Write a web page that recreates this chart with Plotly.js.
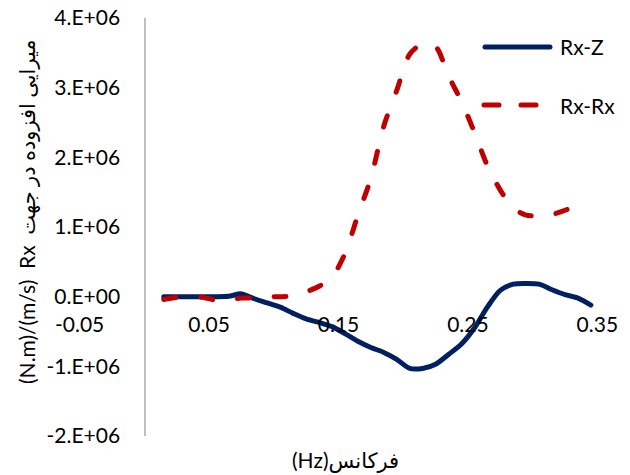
<!DOCTYPE html>
<html><head><meta charset="utf-8">
<script src="https://cdn.plot.ly/plotly-3.0.1.min.js"></script>
<style>
html,body{margin:0;padding:0;background:#fff;}
#chart{width:630px;height:475px;}
.scatterlayer path.js-line{stroke-linecap:round;stroke-linejoin:round;}
.shapelayer path{stroke-linecap:round;}
</style></head><body><div id="chart"></div><script>
// Frequencies (Hz)
const freqRxZ = [0.015,0.025,0.035,0.045,0.055,0.065,0.075,0.085,0.095,0.105,0.115,0.125,0.135,0.145,0.155,0.165,0.175,0.185,0.195,0.205,0.215,0.225,0.235,0.245,0.255,0.265,0.275,0.285,0.295,0.305,0.315,0.325,0.335,0.345];
const valRxZ = [0,0,0,0,0,0.005e6,0.04e6,-0.03e6,-0.09e6,-0.15e6,-0.24e6,-0.32e6,-0.37e6,-0.43e6,-0.53e6,-0.64e6,-0.73e6,-0.80e6,-0.90e6,-1.03e6,-1.03e6,-0.97e6,-0.83e6,-0.68e6,-0.45e6,-0.15e6,0.09e6,0.18e6,0.19e6,0.18e6,0.10e6,0.03e6,-0.02e6,-0.12e6];
const freqRxRx = [0.015,0.025,0.035,0.045,0.055,0.065,0.075,0.085,0.095,0.105,0.115,0.125,0.135,0.145,0.155,0.165,0.175,0.185,0.195,0.205,0.215,0.225,0.235,0.245,0.255,0.265,0.275,0.285,0.295,0.305,0.315,0.325,0.335];
const valRxRx = [-0.04e6,-0.01e6,0,-0.01e6,-0.05e6,-0.04e6,-0.02e6,-0.02e6,0,0,0.01e6,0.07e6,0.15e6,0.28e6,0.62e6,1.17e6,1.70e6,2.45e6,2.96e6,3.48e6,3.63e6,3.59e6,3.17e6,2.80e6,2.36e6,1.88e6,1.53e6,1.27e6,1.17e6,1.16e6,1.18e6,1.24e6,1.33e6];
const seriesNames = ['Rx-Z','Rx-Rx'];
const xTickVals = [-0.05,0.05,0.15,0.25,0.35];
const xTickText = ['-0.05','0.05','0.15','0.25','0.35'];
const yTickVals = [-2e6,-1e6,0,1e6,2e6,3e6,4e6];
const yTickText = ['-2.E+06','-1.E+06','0.E+00','1.E+06','2.E+06','3.E+06','4.E+06'];
const xTitle = '(Hz)فرکانس';
const yTitle = '(N.m)/(m/s)  Rx  میرایی افزوده در جهت';

const blue = '#002060', red = '#C00000';
const traces = [
  {x:freqRxZ, y:valRxZ, name:seriesNames[0], type:'scatter', mode:'lines',
   line:{color:blue, width:5, shape:'spline', smoothing:0.8}},
  {x:freqRxRx, y:valRxRx, name:seriesNames[1], type:'scatter', mode:'lines',
   line:{color:red, width:5, shape:'spline', smoothing:0.8, dash:'12px,25px'}}
];
const font = {family:'Lato, "DejaVu Sans", sans-serif', size:21, color:'#000'};
const layout = {
  width:630, height:475,
  margin:{l:79, r:32, t:18, b:39, pad:0},
  paper_bgcolor:'#fff', plot_bgcolor:'#fff',
  showlegend:false,
  font:font,
  xaxis:{range:[-0.0505,0.3505], tickvals:xTickVals, ticktext:xTickText,
    showgrid:false, zeroline:false, showline:false, ticks:'',
    anchor:'free', position:1/3, ticklabelstandoff:13},
  yaxis:{range:[-2e6,4e6], tickvals:yTickVals, ticktext:yTickText,
    showgrid:false, zeroline:false, showline:true, linecolor:'#bfbfbf', linewidth:1.5, ticks:'',
    anchor:'free', position:0.0505/0.401, ticklabelstandoff:20},
  shapes:[
    {type:'line', xref:'paper', yref:'paper', x0:(485-79)/519, x1:(550-79)/519, y0:(436-47)/418, y1:(436-47)/418,
     line:{color:blue, width:5}},
    {type:'line', xref:'paper', yref:'paper', x0:(484-79)/519, x1:(540-79)/519, y0:(436-105)/418, y1:(436-105)/418,
     line:{color:red, width:5, dash:'15px,22px'}}
  ],
  annotations:[
    {text:seriesNames[0], xref:'paper', yref:'paper', x:(558-79)/519, y:(436-47)/418, xanchor:'left', yanchor:'middle', showarrow:false, font:font},
    {text:seriesNames[1], xref:'paper', yref:'paper', x:(558-79)/519, y:(436-105)/418, xanchor:'left', yanchor:'middle', showarrow:false, font:font},
    {text:xTitle, xref:'paper', yref:'paper', x:(345-79)/519, y:(436-460)/418, xanchor:'center', yanchor:'middle', showarrow:false, font:font},
    {text:yTitle, xref:'paper', yref:'paper', x:(27-79)/519, y:(436-212)/418, xanchor:'center', yanchor:'middle', textangle:-90, showarrow:false, font:font}
  ]
};
Plotly.newPlot('chart', traces, layout, {displayModeBar:false, staticPlot:true});
</script></body></html>
